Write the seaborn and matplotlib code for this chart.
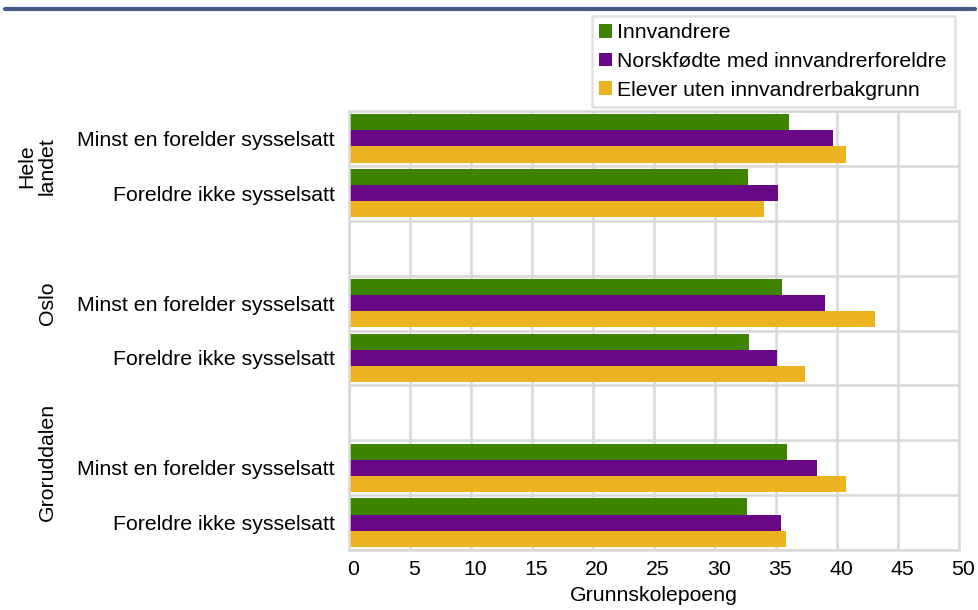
import numpy as np
import pandas as pd
import matplotlib
matplotlib.use("Agg")
import matplotlib.pyplot as plt
import seaborn as sns
from matplotlib.lines import Line2D
from matplotlib.transforms import blended_transform_factory, ScaledTranslation

# Data
regions = ["Hele landet", "Oslo", "Groruddalen"]
region_labels = ["Hele\nlandet", "Oslo", "Groruddalen"]
employment = ["Minst en forelder sysselsatt", "Foreldre ikke sysselsatt"]
series = ["Innvandrere", "Norskfødte med innvandrerforeldre", "Elever uten innvandrerbakgrunn"]

innvandrere = [36.1, 32.7, 35.5, 32.8, 35.9, 32.6]
norskfodte = [39.7, 35.2, 39.0, 35.1, 38.4, 35.4]
uten_bakgrunn = [40.7, 34.0, 43.1, 37.4, 40.7, 35.8]

colors = ["#3E8400", "#690887", "#EBB31F"]
grid_color = "#D9D9D9"

x_ticks = [0, 5, 10, 15, 20, 25, 30, 35, 40, 45, 50]

FS = 15.3


def build_frame():
    rows = []
    keys = [f"{r}|{e}" for r in regions for e in employment]
    for vals, name in zip([innvandrere, norskfodte, uten_bakgrunn], series):
        for key, v in zip(keys, vals):
            rows.append({"kategori": key, "gruppe": name, "poeng": v})
    return pd.DataFrame(rows)


def main():
    df = build_frame()

    # category order with empty spacer rows between regions
    order = []
    for i, r in enumerate(regions):
        if i > 0:
            order.append(" " * i)
        order += [f"{r}|{e}" for e in employment]

    sns.set_style("white")
    plt.rcParams["font.family"] = ["Liberation Sans", "DejaVu Sans"]
    plt.rcParams["text.color"] = "black"
    plt.rcParams["axes.labelcolor"] = "black"
    plt.rcParams["xtick.color"] = "black"
    plt.rcParams["ytick.color"] = "black"

    fig = plt.figure(figsize=(9.79, 6.10), dpi=100)
    ax = fig.add_axes([349 / 979, 1 - 550 / 610, 610 / 979, 439 / 610])

    sns.barplot(
        data=df, y="kategori", x="poeng", hue="gruppe",
        order=order, hue_order=series, palette=colors,
        orient="h", width=0.88, saturation=1, linewidth=0,
        ax=ax, legend=True,
    )

    ax.set_xlim(0, 50)
    ax.set_ylim(len(order) - 0.5, -0.5)
    ax.set_xticks(x_ticks)
    ax.set_xticklabels([str(t) for t in x_ticks])

    ticklabels = [k.split("|")[1] if "|" in k else "" for k in order]
    ax.set_yticks(range(len(order)))
    ax.set_yticklabels(ticklabels)
    ax.set_yticks(np.arange(-0.5, len(order)), minor=True)

    ax.grid(False)
    ax.grid(axis="x", which="major", color=grid_color, lw=1.8)
    ax.grid(axis="y", which="minor", color=grid_color, lw=1.8)
    ax.set_axisbelow(True)
    ax.tick_params(axis="both", which="both", length=0, labelsize=FS)
    ax.tick_params(axis="y", pad=10)
    ax.tick_params(axis="x", pad=7)
    for s in ax.spines.values():
        s.set_color(grid_color)
        s.set_linewidth(1.8)

    # x tick labels sit a little right of their gridlines in the original
    shift = ScaledTranslation(4 / 100, 0, fig.dpi_scale_trans)
    for lab in ax.get_xticklabels():
        lab.set_transform(lab.get_transform() + shift)

    ax.set_ylabel("")
    ax.set_xlabel("Grunnskolepoeng", fontsize=FS, labelpad=5)

    # region group labels
    trans = blended_transform_factory(fig.transFigure, ax.transData)
    group_rows = [[0, 1], [2, 3, 4], [5, 6, 7]]
    for lab, rows in zip(region_labels, group_rows):
        ax.text(57 / 979, np.mean(rows) - (0.1 if lab == "Groruddalen" else 0),
                lab, transform=trans, rotation=90, ha="right", va="center",
                fontsize=FS, multialignment="center", linespacing=1.1)

    handles, labels = ax.get_legend_handles_labels()
    ax.legend(
        handles, labels, loc="upper left",
        bbox_to_anchor=(592 / 979, 1 - 16 / 610), bbox_transform=fig.transFigure,
        borderaxespad=0, fontsize=FS, frameon=True, fancybox=False,
        edgecolor=grid_color, handlelength=0.6, handleheight=0.6,
        handletextpad=0.25, labelspacing=0.45, borderpad=0.35,
    )
    ax.get_legend().get_frame().set_linewidth(1.8)

    # header rule at the top
    fig.add_artist(Line2D([5 / 979, 975 / 979], [1 - 9 / 610, 1 - 9 / 610],
                          color="#44598A", lw=3, transform=fig.transFigure))

    fig.savefig("out.png", dpi=100)


if __name__ == "__main__":
    main()
